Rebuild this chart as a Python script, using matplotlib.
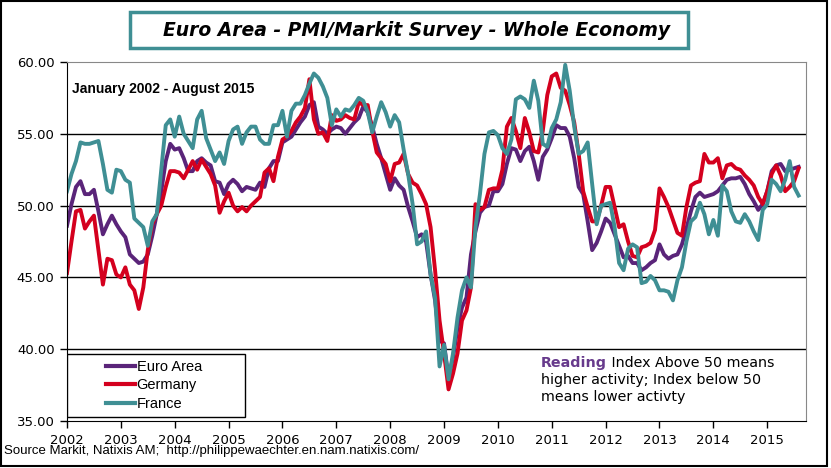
import numpy as np
import matplotlib
matplotlib.use("Agg")
import matplotlib.pyplot as plt
from matplotlib.patches import Rectangle
from matplotlib.lines import Line2D

# monthly values, January 2002 - August 2015
euro_area = [
    48.6, 50.1, 51.3, 51.7, 50.8, 50.8, 51.1, 49.6, 48.0, 48.7, 49.3, 48.7,
    48.2, 47.8, 46.6, 46.3, 46.0, 46.1, 46.6, 47.9, 49.4, 51.0, 53.1, 54.3,
    53.9, 54.0, 53.3, 52.4, 52.4, 53.1, 53.3, 53.0, 52.8, 51.7, 51.6, 50.8,
    51.5, 51.8, 51.5, 51.0, 51.3, 51.2, 51.1, 51.6, 51.3, 52.6, 53.1, 53.1,
    54.4, 54.6, 54.8, 55.3, 55.8, 56.2, 57.0, 57.2, 55.5, 55.3, 55.0, 55.3,
    55.5, 55.4, 55.0, 55.4, 55.8, 56.1, 56.9, 56.5, 55.5, 54.3, 53.3, 52.2,
    51.1, 51.9, 51.4, 51.1, 49.9, 48.9, 47.8, 48.0, 47.5, 45.2, 43.4, 40.6,
    40.4, 38.0, 39.4, 41.5, 42.9, 43.6, 46.6, 48.2, 49.5, 49.9, 50.0, 51.0,
    51.0, 51.5, 52.9, 54.0, 53.9, 53.1, 53.8, 54.1, 53.1, 51.8, 53.4, 53.9,
    54.7, 55.6, 55.4, 55.4, 54.8, 53.3, 51.3, 50.8, 48.9, 46.9, 47.4, 48.2,
    49.1, 48.8, 48.0, 47.2, 46.4, 46.5, 46.0, 46.0, 45.5, 45.7, 46.0, 46.2,
    47.3, 46.6, 46.3, 46.5, 46.6, 47.3, 48.4, 49.6, 50.6, 50.9, 50.6, 50.7,
    50.8, 51.0, 51.4, 51.8, 51.9, 51.9, 52.0, 51.5, 50.8, 50.3, 49.7, 50.1,
    51.0, 52.4, 52.8, 52.9, 52.4, 52.5, 52.6, 52.7,
]
germany = [
    45.3, 47.5, 49.6, 49.7, 48.4, 48.9, 49.3, 46.9, 44.5, 46.3, 46.2, 45.2,
    45.0, 45.7, 44.5, 44.1, 42.8, 44.3, 46.9, 48.7, 49.4, 50.0, 51.3, 52.4,
    52.4, 52.3, 51.9, 52.5, 53.1, 52.5, 53.2, 52.7, 52.2, 51.4, 49.5, 50.3,
    50.9, 50.0, 49.6, 49.9, 49.6, 50.0, 50.3, 50.6, 52.3, 52.6, 51.7, 53.4,
    54.6, 54.8, 55.2, 55.8, 56.2, 56.8, 58.8, 56.0, 55.0, 55.1, 54.5, 56.3,
    55.9, 56.0, 56.3, 56.1, 56.0, 57.2, 57.0, 57.0, 55.2, 53.7, 53.3, 52.9,
    51.7, 52.9, 53.0, 53.6, 52.2, 51.6, 51.4, 50.8, 50.1, 48.5, 45.5, 42.0,
    39.7, 37.2, 38.3, 39.7, 42.0, 42.7, 44.3, 50.1, 49.7, 49.9, 51.1, 51.2,
    51.2, 52.5, 55.5, 56.1, 55.2, 54.0, 56.1, 55.1, 53.8, 53.7, 55.2, 57.7,
    59.0, 59.2, 58.2, 58.0, 57.0, 55.8, 53.6, 51.0, 49.9, 48.9, 48.9, 50.0,
    51.3, 51.3, 49.9, 48.5, 48.7, 47.5, 46.5, 46.4, 47.1, 47.2, 47.4, 48.3,
    51.2, 50.6, 49.9, 49.0, 48.1, 47.9, 49.9, 51.4, 51.6, 51.7, 53.6, 53.0,
    53.0, 53.3, 51.9, 52.8, 52.9, 52.6, 52.5, 52.1, 51.8, 51.4, 50.6, 50.1,
    51.0, 52.2, 52.8, 52.1, 51.0, 51.3, 51.7, 52.6,
]
france = [
    51.0, 52.2, 53.1, 54.4, 54.3, 54.3, 54.4, 54.5, 52.9, 51.1, 50.9, 52.5,
    52.4, 51.8, 51.6, 49.1, 48.8, 48.5, 47.2, 48.9, 49.4, 52.5, 55.6, 56.0,
    54.8, 56.2, 55.0, 54.5, 54.0, 56.0, 56.6, 54.7, 53.9, 53.1, 53.7, 52.9,
    54.5, 55.3, 55.5, 54.3, 55.1, 55.5, 55.5, 54.6, 54.3, 54.3, 55.6, 55.6,
    56.6, 54.8, 56.6, 57.1, 57.1, 57.7, 58.5, 59.2, 58.9, 58.3, 57.5, 55.6,
    56.7, 56.2, 56.7, 56.6, 57.0, 57.5, 57.3, 56.5, 55.1, 56.2, 57.2, 56.5,
    55.5, 56.3, 55.8, 53.9, 52.2, 50.1, 47.3, 47.5, 48.2, 45.2, 43.6, 38.8,
    40.3, 37.9, 39.7, 42.2, 44.1, 45.0, 44.3, 48.5, 50.8, 53.6, 55.1, 55.2,
    54.9, 54.0, 53.6, 54.6, 57.4, 57.6, 57.4, 56.8, 58.7, 57.3, 54.3, 54.1,
    55.4, 56.0, 57.2, 59.8, 58.0, 55.5, 53.6, 53.8, 54.4, 51.5, 48.7, 50.0,
    50.1, 50.2, 48.5, 46.0, 45.5, 47.0, 47.3, 47.1, 44.6, 44.7, 45.1, 44.8,
    44.1, 44.1, 44.0, 43.4, 44.8, 45.7, 47.5, 48.9, 49.2, 50.2, 49.4, 48.0,
    49.0, 47.9, 51.4, 51.0, 49.6, 48.9, 48.8, 49.4, 48.9, 48.2, 47.6, 49.7,
    50.1, 51.8, 51.5, 51.0, 51.8, 53.1, 51.3, 50.7,
]
year_ticks = list(range(2002, 2016))
y_ticks = [35, 40, 45, 50, 55, 60]

PURPLE = "#5a2479"
RED = "#d4001e"
TEAL = "#3f8f94"

x = 2002 + np.arange(len(euro_area)) / 12.0

fig = plt.figure(figsize=(8.31, 4.68), dpi=100)
W, H = 831, 468

ax = fig.add_axes([67 / W, 1 - 421 / H, (806 - 67) / W, (421 - 62) / H])
ax.plot(x, euro_area, color=PURPLE, lw=2.8, label="Euro Area", solid_joinstyle="round")
ax.plot(x, germany, color=RED, lw=2.8, label="Germany", solid_joinstyle="round")
ax.plot(x, france, color=TEAL, lw=2.8, label="France", solid_joinstyle="round")

ax.set_xlim(2002, 2015.72)
ax.set_ylim(35, 60)
ax.set_xticks(year_ticks)
ax.set_xticklabels([str(y) for y in year_ticks])
ax.set_yticks(y_ticks)
ax.set_yticklabels(["%.2f" % v for v in y_ticks])
ax.tick_params(direction="out", length=5, width=1, color="black", pad=4)
ax.tick_params(axis="x", labelsize=9.5)
ax.tick_params(axis="y", labelsize=9.5)
ax.yaxis.grid(True, color="black", lw=1)
ax.set_axisbelow(True)
ax.get_ygridlines()[-1].set_visible(False)
ax.get_ygridlines()[0].set_visible(False)
for side in ["top", "right"]:
    ax.spines[side].set_color("#888888")
for side in ["left", "bottom"]:
    ax.spines[side].set_color("black")

fig.text(72 / W, 1 - 89 / H, "January 2002 - August 2015", fontsize=10,
         fontweight="bold", family="Liberation Sans", va="center")

# legend with square frame
ax.add_patch(Rectangle((0, 0.011), (245 - 67) / 739, 0.176, transform=ax.transAxes,
                       fc="white", ec="black", lw=1, zorder=5))
handles = [Line2D([], [], color=c, lw=3) for c in (PURPLE, RED, TEAL)]
leg = ax.legend(handles, ["Euro Area", "Germany", "France"], loc="center left",
                bbox_to_anchor=(0.035, 0.099), frameon=False,
                handlelength=2.0, handletextpad=0.1, labelspacing=0.3,
                prop={"family": "Liberation Sans", "size": 10.5})
leg.set_zorder(6)

# reading note
t1 = ax.text(541 / W, 1 - 363 / H, "Reading", transform=fig.transFigure,
             fontsize=10.3, fontweight="bold", color="#673a8c", va="center")
ax.annotate(" Index Above 50 means", xy=(1, 0.5), xycoords=t1, va="center",
            fontsize=10.3, color="black")
fig.text(541 / W, 1 - 380 / H, "higher activity; Index below 50", fontsize=10.3, va="center")
fig.text(541 / W, 1 - 397 / H, "means lower activty", fontsize=10.3, va="center")

# title box
fig.patches.append(Rectangle((130 / W, 1 - 48 / H), (688 - 130) / W, 36 / H,
                             transform=fig.transFigure, fill=False, ec=TEAL, lw=2.5))
fig.text(417 / W, 1 - 30 / H, "Euro Area - PMI/Markit Survey - Whole Economy",
         ha="center", va="center", fontsize=13.5, fontweight="bold", style="italic")

fig.text(4 / W, 1 - 451 / H,
         "Source Markit, Natixis AM;  http://philippewaechter.en.nam.natixis.com/",
         fontsize=9.5, family="Liberation Sans", va="center")

# outer frame
fig.patches.append(Rectangle((1 / W, 1 - 466 / H), 826 / W, 465 / H,
                             transform=fig.transFigure, fill=False, ec="black", lw=1.5))

fig.savefig("out.png", dpi=100)
